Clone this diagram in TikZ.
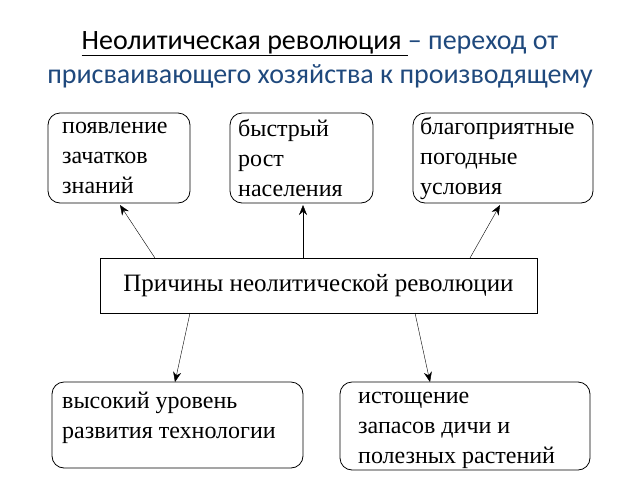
\documentclass[tikz,border=0pt]{standalone}
\usepackage{fontspec}
\setmainfont{Liberation Serif}
\newfontfamily\titlefont{Carlito}
\usetikzlibrary{arrows.meta}
\definecolor{tblue}{RGB}{31,73,125}
\begin{document}
\begin{tikzpicture}[x=1pt,y=-1pt,
  rbox/.style={draw,thick,rounded corners=12pt,inner sep=0pt},
  txt/.style={anchor=west,align=left,font=\fontsize{24}{30}\selectfont,inner sep=0pt},
  arr/.style={-{Stealth[length=10pt,width=8pt]},thin}]
\useasboundingbox (0,0) rectangle (640,480);
\node[font=\titlefont\fontsize{28}{34}\selectfont,align=center] (title) at (320,60)
 {\underline{Неолитическая революция }\textcolor{tblue}{ – переход от}\\\textcolor{tblue}{присваивающего хозяйства к производящему}};
\draw[rbox] (48,113) rectangle (190,203);
\node[txt] (t1) at (62,158) {появление\\зачатков\\знаний};
\coordinate (b1) at (120,205);
\draw[rbox] (230,113) rectangle (373,203);
\node[txt] (t2) at (238,158) {быстрый\\рост\\населения};
\coordinate (b2) at (303,205);
\draw[rbox] (413,113) rectangle (593,203);
\node[txt] (t3) at (420,158) {благоприятные\\погодные\\условия};
\coordinate (b3) at (500,205);
\node[draw,minimum width=437pt,minimum height=55pt,font=\fontsize{25}{30}\selectfont] (c) at (318.5,285.5) {Причины неолитической революции};
\draw[rbox] (52,382) rectangle (303,468);
\node[txt] (t4) at (62,418) {высокий уровень\\развития технологии};
\coordinate (b4) at (175,382);
\draw[rbox] (340,382) rectangle (590,470);
\node[txt] (t5) at (358,430) {истощение\\запасов дичи и\\полезных растений};
\coordinate (b5) at (430,382);
\draw[arr] (c.north west) ++(55,0) -- (b1);
\draw[arr] (303,258) -- (b2);
\draw[arr] (470,258) -- (b3);
\draw[arr] (190,313) -- (b4);
\draw[arr] (415,313) -- (b5);
\end{tikzpicture}
\end{document}
